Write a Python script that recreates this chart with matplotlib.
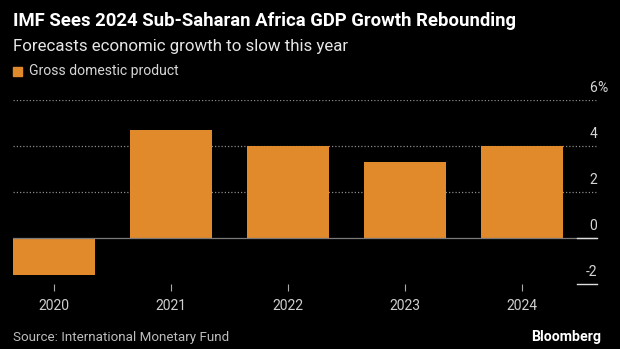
import matplotlib.pyplot as plt
from matplotlib.patches import Rectangle
from matplotlib.transforms import blended_transform_factory

# data (percent)
years = ["2020", "2021", "2022", "2023", "2024"]
gdp = [-1.6, 4.7, 4.0, 3.3, 4.0]
y_ticks = [-2, 0, 2, 4, 6]
y_labels = ["-2", "0", "2", "4", "6"]

BG = "#000000"
ORANGE = "#e08a2b"
W, H = 620, 349

plt.rcParams["font.family"] = ["Roboto", "DejaVu Sans"]


def fx(px):
    return px / W


def fy(py):
    return 1 - py / H


fig = plt.figure(figsize=(W / 100, H / 100), dpi=100, facecolor=BG)

# plot area: 0 -> 238px, 6 -> 100px, -2 -> 284px
ax = fig.add_axes([fx(13), fy(284), (597 - 13) / W, (284 - 100) / H])
ax.set_facecolor(BG)

x = list(range(len(years)))
ax.bar(x, gdp, width=0.7, color=ORANGE, zorder=3)
ax.set_xlim(-0.35, -0.35 + 584 / 117)
ax.set_ylim(-2, 6)

# dotted gridlines above zero, solid zero line
for t in y_ticks:
    if t > 0:
        ax.axhline(t, color="#8a8a8a", lw=0.9, ls=(0, (1, 1.6)), zorder=1)
ax.axhline(0, color="#7a7a7a", lw=0.9, zorder=4)

# short white underline marks at the right for 0 and -2
trans = blended_transform_factory(ax.transAxes, ax.transData)
for t in [0, -2]:
    ax.plot([0.966, 1.0], [t, t], color="#dddddd", lw=1.0, transform=trans,
            clip_on=False, zorder=5)

for s in ax.spines.values():
    s.set_visible(False)

ax.set_yticks([])
ax.set_xticks(x)
ax.set_xticklabels(years, fontsize=10, color="#cfcfcf")
ax.tick_params(axis="x", length=5, width=0.8, color="#aaaaaa", pad=6)

for t, lab in zip(y_ticks, y_labels):
    ax.annotate(lab, xy=(1.0, t), xycoords=trans, xytext=(0, 8.6),
                textcoords="offset points", ha="right", va="center",
                fontsize=10, color="#d6d6d6", annotation_clip=False)
ax.annotate("%", xy=(1.0, 6), xycoords=trans, xytext=(0, 8.6),
            textcoords="offset points", ha="left", va="center",
            fontsize=10, color="#d6d6d6", annotation_clip=False)

# header
fig.text(fx(13), fy(21), "IMF Sees 2024 Sub-Saharan Africa GDP Growth Rebounding",
         fontsize=13.3, fontweight="bold", color="white", va="center")
fig.text(fx(13), fy(46), "Forecasts economic growth to slow this year",
         fontsize=12.2, color="#e6e6e6", va="center")

# legend
fig.patches.append(Rectangle((fx(13), fy(76)), 9 / W, 9 / H, color=ORANGE,
                             transform=fig.transFigure, figure=fig))
fig.text(fx(29), fy(71), "Gross domestic product", fontsize=10.1,
         color="#d6d6d6", va="center")

# footer
fig.text(fx(13), fy(338), "Source: International Monetary Fund", fontsize=9.6,
         color="#bdbdbd", va="center")
fig.text(fx(601), fy(337), "Bloomberg", fontsize=10.2, fontweight="bold",
         color="white", va="center", ha="right")

fig.savefig("out.png", dpi=100, facecolor=BG)
